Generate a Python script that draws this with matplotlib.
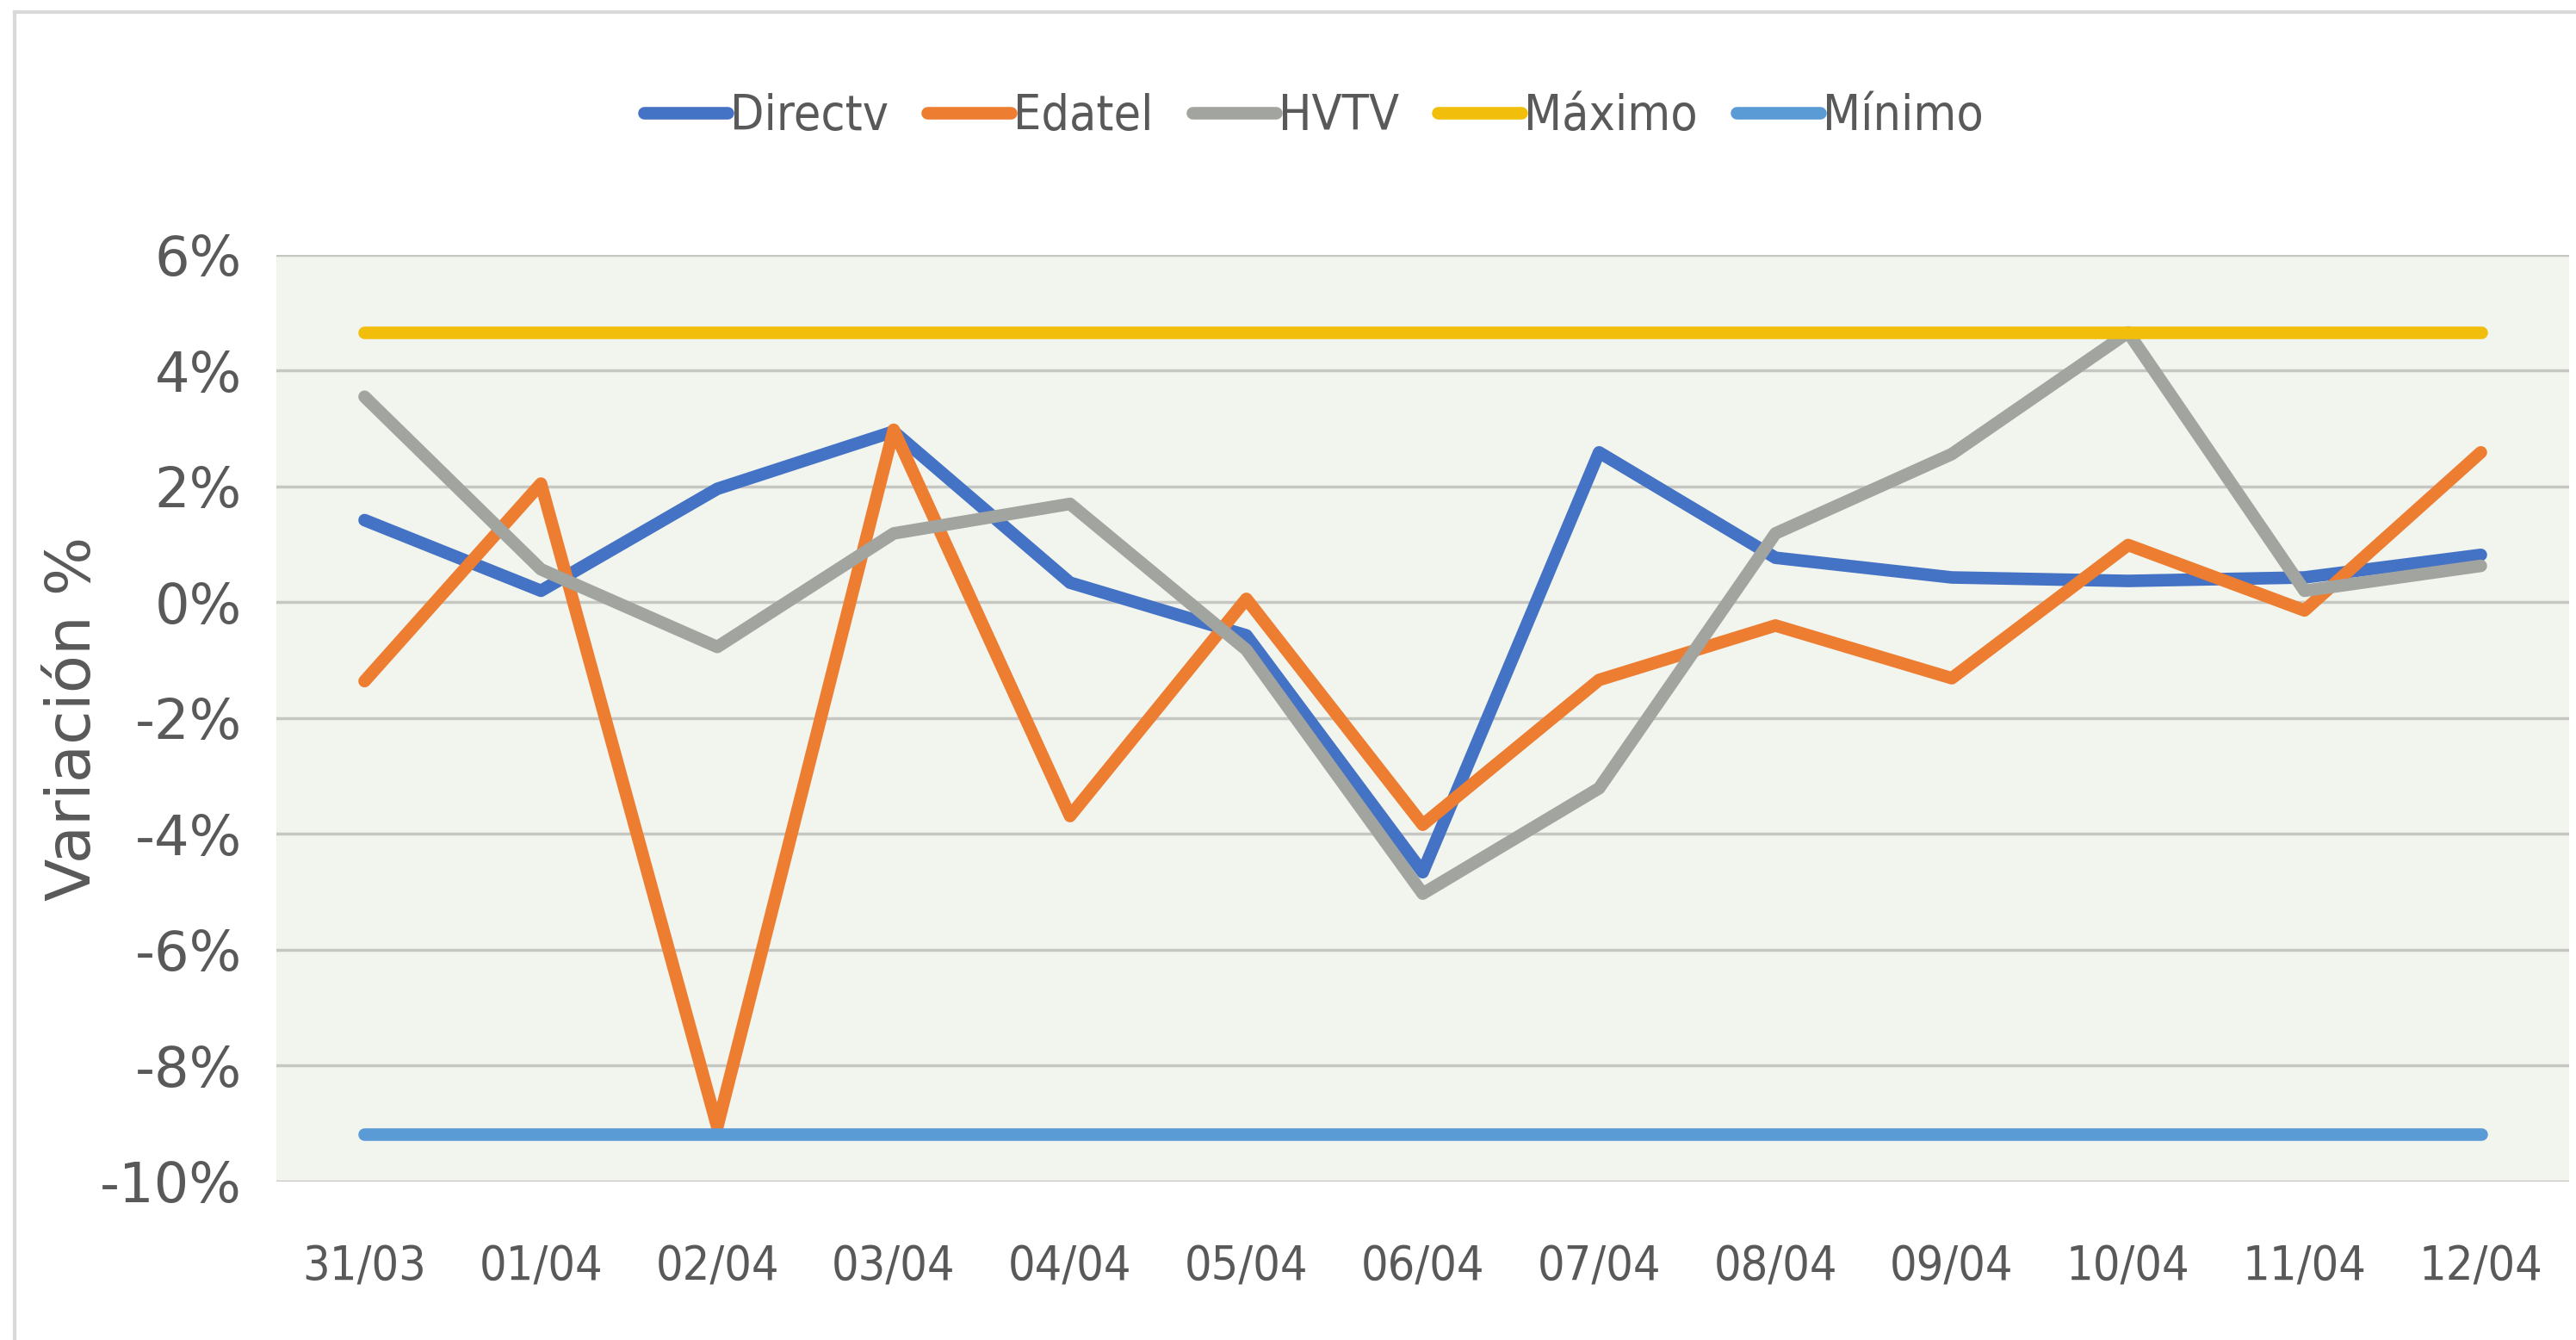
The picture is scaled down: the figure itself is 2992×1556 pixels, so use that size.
import matplotlib
matplotlib.use("Agg")
import matplotlib.pyplot as plt
from matplotlib import font_manager as fm
from matplotlib.lines import Line2D

# data (daily % variation)
fechas = ["31/03", "01/04", "02/04", "03/04", "04/04", "05/04", "06/04",
          "07/04", "08/04", "09/04", "10/04", "11/04", "12/04"]
directv = [1.42, 0.2, 1.96, 2.95, 0.34, -0.57, -4.66, 2.59, 0.77, 0.43, 0.37, 0.43, 0.82]
edatel = [-1.36, 2.05, -9.06, 2.98, -3.69, 0.06, -3.84, -1.34, -0.4, -1.31, 0.99, -0.14, 2.59]
hvtv = [3.55, 0.57, -0.77, 1.19, 1.70, -0.82, -5.03, -3.21, 1.19, 2.56, 4.66, 0.2, 0.63]
maximo = 4.66
minimo = -9.18

series = [("Directv", directv, "#4472C4"),
          ("Edatel", edatel, "#ED7D31"),
          ("HVTV", hvtv, "#A2A49F"),
          ("Máximo", [maximo] * len(fechas), "#F2BE0C"),
          ("Mínimo", [minimo] * len(fechas), "#5B9BD5")]

# look for a condensed face for the categories / legend (original uses one)
narrow = {"family": "Liberation Sans"}
xsize, lsize = 36, 37
names = {f.name for f in fm.fontManager.ttflist}
if "Liberation Sans Narrow" in names:
    narrow = {"family": "Liberation Sans Narrow"}
    xsize, lsize = 44, 45
else:
    for f in fm.fontManager.ttflist:
        if isinstance(f.stretch, str) and "condensed" in f.stretch and f.style == "normal":
            narrow = {"family": f.name, "stretch": f.stretch}
            xsize, lsize = 40, 41
            break

txt = "#595959"

fig = plt.figure(figsize=(29.92, 15.56), dpi=100)
ax = fig.add_axes([0.1073, 0.1183, 0.8900, 0.6915])
ax.set_facecolor("#F2F4EE")

x = list(range(len(fechas)))
for name, vals, col in series:
    ax.plot(x, vals, color=col, lw=10.5, solid_capstyle="round",
            solid_joinstyle="round", label=name, zorder=3)

ax.set_xlim(-0.5, len(fechas) - 0.5)
ax.set_ylim(-10, 6)
ax.set_yticks(range(-10, 7, 2))
ax.set_yticklabels([f"{v}%" for v in range(-10, 7, 2)], fontsize=46,
                   color=txt, family="DejaVu Sans")
ax.set_xticks(x)
ax.set_xticklabels(fechas, color=txt, fontproperties=fm.FontProperties(size=xsize, **narrow))
ax.tick_params(axis="both", length=0)
ax.tick_params(axis="y", pad=29)
ax.tick_params(axis="x", pad=52)
ax.grid(axis="y", color="#C6C6C2", lw=2.5, zorder=1)
for s in ax.spines.values():
    s.set_visible(False)

ax.set_ylabel("Variación %", fontsize=52, color=txt)
ax.yaxis.set_label_coords(-0.0755, 0.5)

handles = [Line2D([], [], color=c, lw=10.5, solid_capstyle="round") for _, _, c in series]
fig.legend(handles, [n for n, _, _ in series], loc="center",
           bbox_to_anchor=(0.51, 0.913), ncol=5, frameon=False,
           prop=fm.FontProperties(size=lsize, **narrow), labelcolor=txt,
           handlelength=1.7, handletextpad=0.05, columnspacing=0.8)

# thin frame of the chart area (left and top edges)
fig.add_artist(Line2D([0.0057, 0.0057], [0.0, 0.991], color="#D9D9D9", lw=3,
                      transform=fig.transFigure))
fig.add_artist(Line2D([0.0057, 1.0], [0.991, 0.991], color="#D9D9D9", lw=3,
                      transform=fig.transFigure))

fig.savefig("out.png", dpi=100, facecolor="white")
